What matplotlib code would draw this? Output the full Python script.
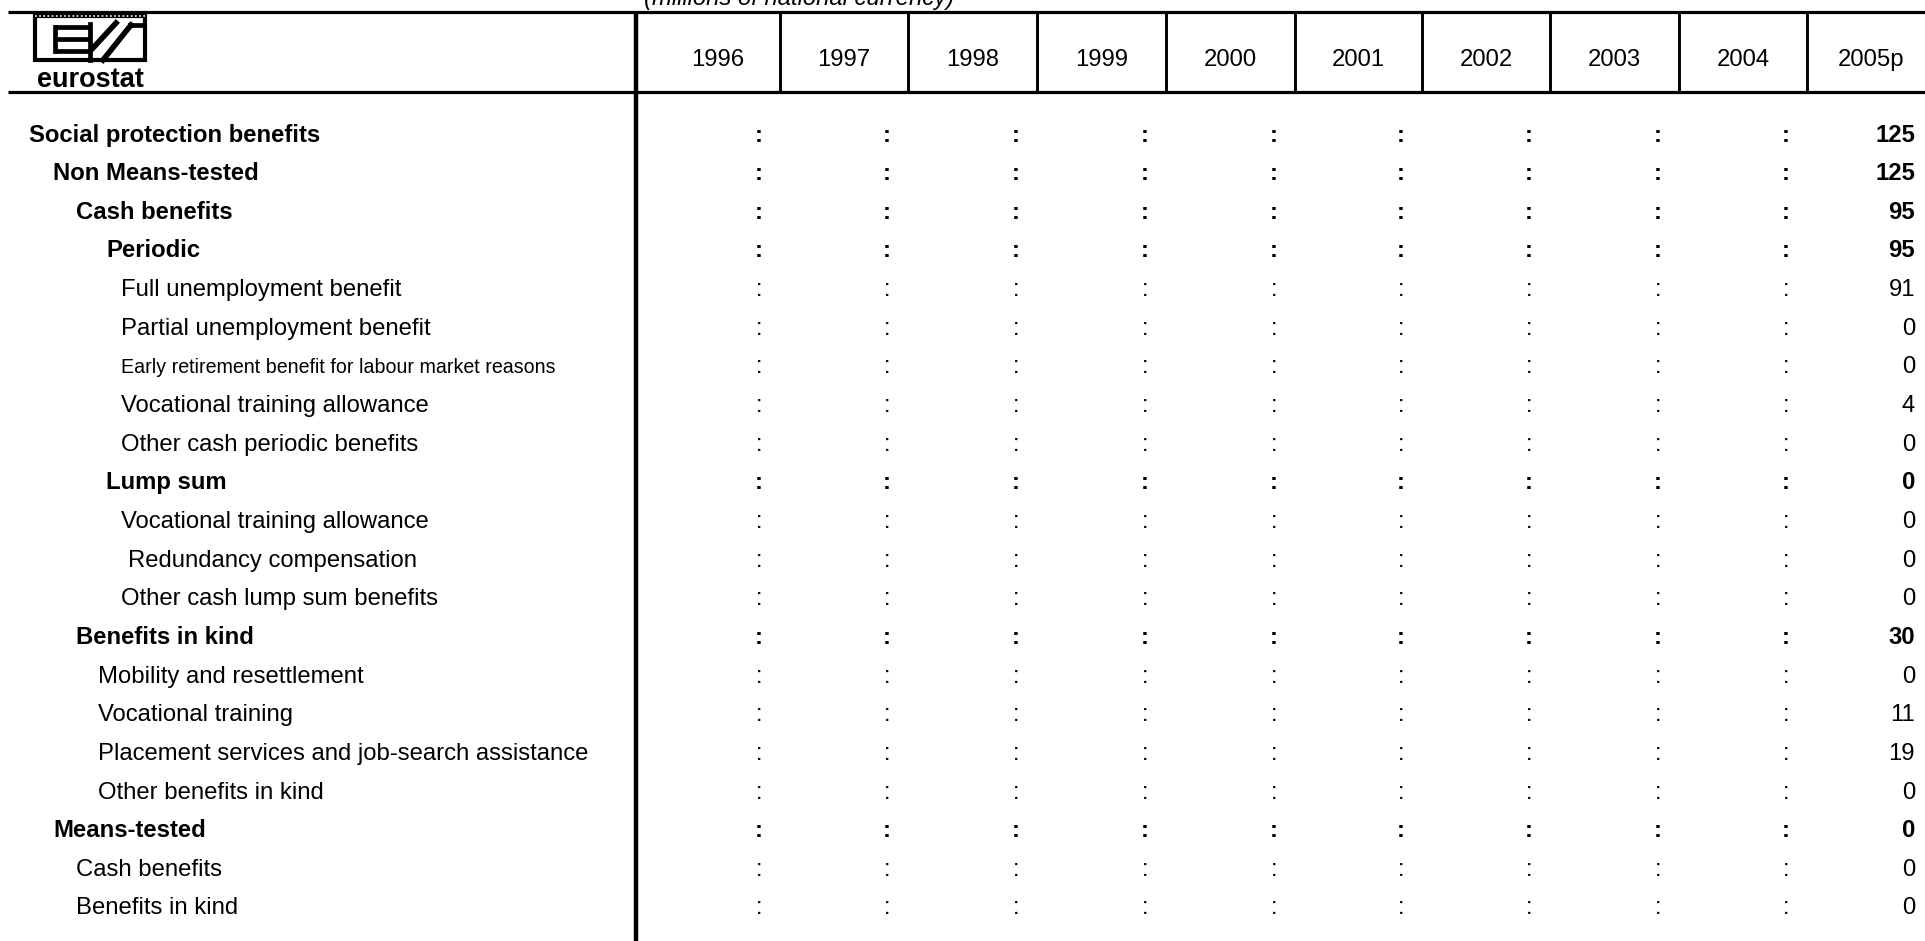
import matplotlib
matplotlib.use("Agg")
import matplotlib.pyplot as plt
from matplotlib import font_manager
from matplotlib.patches import Rectangle

# ---- table content ----
years = ['1996', '1997', '1998', '1999', '2000', '2001', '2002', '2003', '2004', '2005p']
labels = [
    'Social protection benefits',
    'Non Means-tested',
    'Cash benefits',
    'Periodic',
    'Full unemployment benefit',
    'Partial unemployment benefit',
    'Early retirement benefit for labour market reasons',
    'Vocational training allowance',
    'Other cash periodic benefits',
    'Lump sum',
    'Vocational training allowance',
    'Redundancy compensation',
    'Other cash lump sum benefits',
    'Benefits in kind',
    'Mobility and resettlement',
    'Vocational training',
    'Placement services and job-search assistance',
    'Other benefits in kind',
    'Means-tested',
    'Cash benefits',
    'Benefits in kind',
]
# 1996-2004 not available (':'), 2005p values
missing = ':'
values_2005 = [125, 125, 95, 95, 91, 0, 0, 4, 0, 0, 0, 0, 0, 30, 0, 11, 19, 0, 0, 0, 0]
bold_rows = [0, 1, 2, 3, 9, 13, 18]
subtitle = '(millions of national currency)'

# ---- layout (pixels) ----
W, H = 1925, 941
indent = [29, 53, 76, 106, 121, 121, 121, 121, 121, 106, 121, 128, 121, 76, 98, 98, 98, 98, 53, 76, 76]
col_edges = [636, 780, 908, 1037, 1166, 1295, 1422, 1550, 1679, 1807, 1935]
top_y, head_y = 11.5, 91.5
row0, row_step = 141.5, 38.65
fs = 17.2

names = {f.name for f in font_manager.fontManager.ttflist}
narrow = 'Liberation Sans Narrow' if 'Liberation Sans Narrow' in names else None

plt.rcParams['font.family'] = ['Liberation Sans', 'DejaVu Sans']

fig = plt.figure(figsize=(W / 100, H / 100), dpi=100)
ax = fig.add_axes([0, 0, 1, 1])
ax.set_xlim(0, W)
ax.set_ylim(H, 0)
ax.axis('off')

# rules
ax.plot([8, W], [top_y, top_y], color='black', lw=2.3, solid_capstyle='butt')
ax.plot([8, W], [head_y, head_y], color='black', lw=2.3, solid_capstyle='butt')
ax.plot([col_edges[0], col_edges[0]], [top_y, H], color='black', lw=3.2, solid_capstyle='butt')
for x in col_edges[1:-1]:
    ax.plot([x, x], [top_y, head_y], color='black', lw=2.1, solid_capstyle='butt')

# subtitle (cut by the top edge, as in the source)
ax.text(644, 4.5, subtitle, fontsize=fs, style='italic', ha='left', va='baseline')

# header years
for i, yr in enumerate(years):
    cx = (col_edges[i] + col_edges[i + 1]) / 2
    if i == 0:
        cx += 10
    ax.text(cx, 66, yr, fontsize=fs, ha='center', va='baseline')

# body
for r, lab in enumerate(labels):
    y = row0 + r * row_step
    wt = 'bold' if r in bold_rows else 'normal'
    if r == 6:
        if narrow:
            ax.text(indent[r], y, lab, fontsize=fs, family=narrow, va='baseline')
        else:
            ax.text(indent[r], y, lab, fontsize=fs * 0.82, va='baseline')
    else:
        ax.text(indent[r], y, lab, fontsize=fs, fontweight=wt, va='baseline')
    for c in range(len(years)):
        txt = str(values_2005[r]) if years[c] == '2005p' else missing
        pad = 20 if years[c] == '2005p' else 17.5
        ax.text(col_edges[c + 1] - pad, y, txt, fontsize=fs, fontweight=wt,
                ha='right', va='baseline')

# eurostat logo
ax.add_patch(Rectangle((35, 16), 110, 44, fill=False, ec='black', lw=3.0))
ax.plot([35, 145], [16, 16], color='white', lw=1.2, ls=(0, (1, 1.5)))
for yy in (27, 39, 51):
    ax.plot([55, 89], [yy, yy], color='black', lw=3.4, solid_capstyle='butt')
ax.plot([55, 55], [27, 51], color='black', lw=3.4)
ax.plot([90, 90], [24, 60], color='black', lw=3.4)
ax.plot([93, 116], [48, 23], color='black', lw=4.0)
ax.plot([103, 131], [60, 25], color='black', lw=4.0)
ax.plot([130, 143], [25, 25], color='black', lw=3.4)
ax.text(90, 87, 'eurostat', fontsize=19.5, fontweight='bold', ha='center', va='baseline')

fig.savefig('out.png', dpi=100)
